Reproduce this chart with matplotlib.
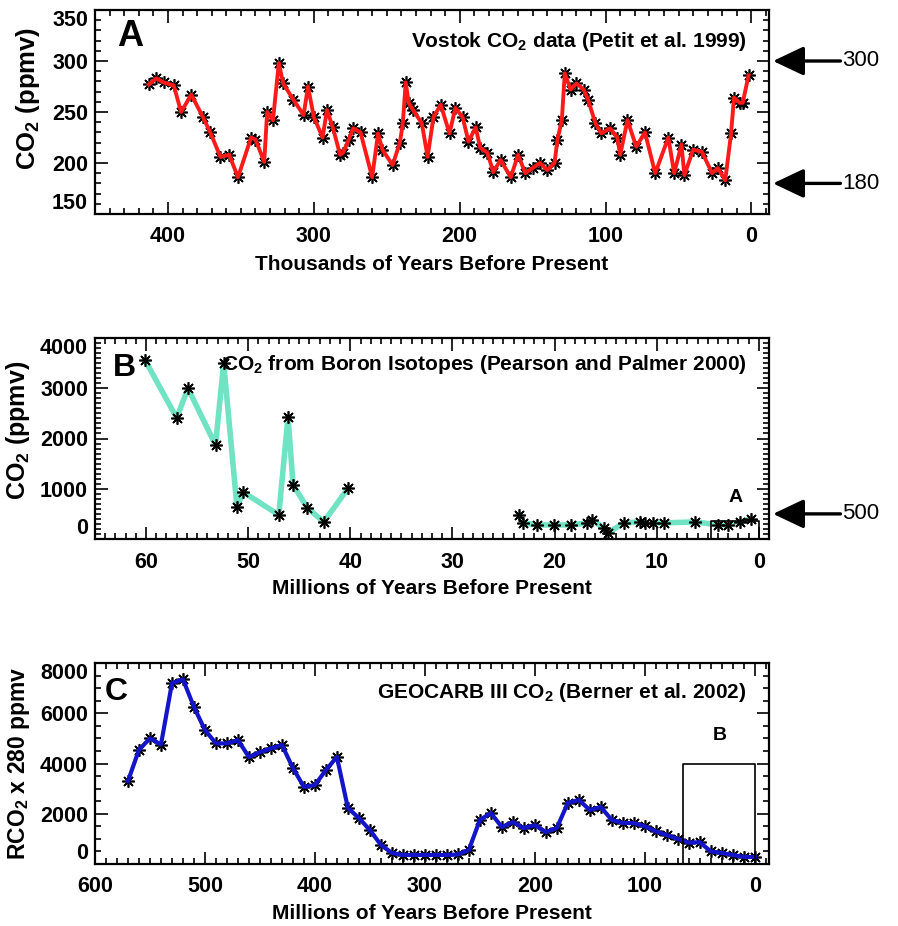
import matplotlib
matplotlib.use("Agg")
import matplotlib.pyplot as plt
from matplotlib.ticker import MultipleLocator
import matplotlib.transforms as mtransforms

plt.rcParams['font.family'] = ['Liberation Sans', 'DejaVu Sans']
plt.rcParams['mathtext.fontset'] = 'custom'
plt.rcParams['mathtext.rm'] = 'Liberation Sans:bold'
plt.rcParams['mathtext.bf'] = 'Liberation Sans:bold'
plt.rcParams['mathtext.default'] = 'bf'

# ---- Panel A: Vostok ice core CO2 (thousands of years BP, ppmv) ----
vostok_age = [413, 408, 403, 396, 391, 384, 376, 371, 364, 358, 352, 343, 340,
              334, 332, 328, 324, 321, 314, 307, 304, 300, 294, 291, 287, 282,
              280, 276, 273, 268, 260, 256, 253, 246, 241, 239, 237, 235, 232,
              226, 222, 218, 213, 207, 203, 198, 194, 189, 186, 181, 177, 172,
              165, 160, 155, 150, 145, 140, 135, 133, 130, 128, 124, 120, 115,
              112, 107, 103, 97, 92, 90, 85, 79, 73, 66, 57, 53, 48, 46, 40,
              34, 27, 23, 18, 14, 12, 8, 6, 2]
vostok_co2 = [277, 283, 279, 276, 250, 267, 245, 230, 206, 208, 186, 225, 223,
              201, 250, 242, 298, 278, 262, 247, 275, 245, 225, 252, 235, 208,
              210, 223, 234, 230, 186, 229, 213, 198, 220, 239, 279, 259, 252,
              239, 206, 245, 257, 229, 254, 245, 221, 235, 215, 210, 191, 203,
              186, 208, 190, 195, 200, 193, 200, 223, 242, 288, 272, 278, 272,
              262, 239, 229, 234, 225, 208, 242, 216, 230, 190, 225, 190, 218,
              188, 213, 211, 190, 195, 183, 229, 264, 259, 259, 286]

# ---- Panel B: boron isotope CO2 (millions of years BP, ppmv) ----
boron_early_age = [60.1, 57.0, 55.9, 53.2, 52.4, 51.1, 50.5, 47.0, 46.1, 45.6,
                   44.2, 42.6, 40.2]
boron_early_co2 = [3560, 2410, 3000, 1870, 3500, 640, 935, 480, 2430, 1075,
                   620, 340, 1015]
boron_late_age = [23.5, 23.1, 21.7, 20.1, 18.4, 16.8, 16.3, 15.2, 14.8, 13.2,
                  11.6, 11.1, 10.4, 9.3, 6.2, 4.0, 3.0, 1.8, 0.8]
boron_late_co2 = [480, 320, 280, 280, 280, 320, 380, 220, 120, 320,
                  340, 320, 320, 320, 340, 280, 280, 340, 400]

# ---- Panel C: GEOCARB III (millions of years BP, RCO2 x 280 ppmv) ----
geocarb_age = [570, 560, 550, 540, 530, 520, 510, 500, 490, 480,
               470, 460, 450, 440, 430, 420, 410, 400, 390, 380,
               370, 360, 350, 340, 330, 320, 310, 300, 290, 280,
               270, 260, 250, 240, 230, 220, 210, 200, 190, 180,
               170, 160, 150, 140, 130, 120, 110, 100, 90, 80,
               70, 60, 50, 40, 30, 20, 10, 0]
geocarb_co2 = [3300, 4550, 5000, 4750, 7200, 7350, 6250, 5330, 4800, 4800,
               4930, 4260, 4450, 4600, 4740, 3820, 3070, 3140, 3740, 4260,
               2230, 1830, 1350, 760, 440, 360, 360, 360, 360, 360,
               380, 560, 1750, 2030, 1470, 1670, 1430, 1550, 1270, 1430,
               2430, 2550, 2150, 2270, 1750, 1630, 1630, 1500, 1300, 1150,
               1000, 850, 870, 500, 440, 360, 280, 280]

# Zoom-box outlines (data coordinates of the panel they are drawn on)
box_a = (0.0, 4.7, 350)      # x0, x1, top in panel B
box_b = (0.0, 65.0, 4000)    # x0, x1, top in panel C

# Reference-level arrows on the right margin
arrows_a = [300, 180]
arrows_b = [500]

W, H = 898, 926
fig = plt.figure(figsize=(W / 100, H / 100), dpi=100)


def px_axes(left, right, top, bottom):
    return fig.add_axes([left / W, 1 - bottom / H, (right - left) / W, (bottom - top) / H])


axA = px_axes(95, 769, 10, 214)
axB = px_axes(95, 769, 338, 539)
axC = px_axes(95, 769, 663, 864)

STAR = (8, 2, 0)
TICKFS = 15.5
BOLD = 'bold'
TITLEFS = 15


def style(ax, xmaj, xmin, ymaj, ymin):
    ax.xaxis.set_major_locator(MultipleLocator(xmaj))
    ax.xaxis.set_minor_locator(MultipleLocator(xmin))
    ax.yaxis.set_major_locator(MultipleLocator(ymaj))
    ax.yaxis.set_minor_locator(MultipleLocator(ymin))
    ax.tick_params(which='both', direction='in', top=True, right=True,
                   width=1.2, color='black')
    ax.tick_params(which='major', length=9)
    ax.tick_params(which='minor', length=4.5)
    ax.tick_params(axis='x', which='major', pad=9, labelsize=TICKFS)
    ax.tick_params(axis='y', which='major', pad=5, labelsize=TICKFS)
    for lab in ax.get_xticklabels() + ax.get_yticklabels():
        lab.set_fontweight(BOLD)
    for s in ax.spines.values():
        s.set_linewidth(1.6)


def right_arrow(ax, y, label):
    trans = mtransforms.blended_transform_factory(ax.transAxes, ax.transData)
    ax.annotate('', xy=(1.006, y), xytext=(1.106, y), xycoords=trans, textcoords=trans,
                annotation_clip=False,
                arrowprops=dict(arrowstyle='-|>,head_length=1.9,head_width=0.9',
                                mutation_scale=10, lw=2.4, color='black',
                                shrinkA=0, shrinkB=0))
    ax.text(1.108, y, label, transform=trans, ha='left', va='center',
            fontsize=16, clip_on=False)


# ---------------- Panel A ----------------
axA.plot(vostok_age, vostok_co2, linestyle='none', marker=STAR, ms=9, mew=1.2,
         color='black', zorder=2)
axA.plot(vostok_age, vostok_co2, color='#ff1a1a', lw=2.8, zorder=3)
axA.set_xlim(450, -12)
axA.set_ylim(150, 350)
style(axA, 100, 10, 50, 10)
axA.text(0.033, 0.955, 'A', transform=axA.transAxes, ha='left', va='top',
         fontsize=26, fontweight=BOLD)
axA.text(0.967, 0.82, r'Vostok CO$_2$ data (Petit et al. 1999)', transform=axA.transAxes,
         ha='right', va='baseline', fontsize=TITLEFS, fontweight=BOLD)
axA.set_xlabel('Thousands of Years Before Present', fontsize=15, fontweight=BOLD)
axA.xaxis.set_label_coords(0.5, -0.2)
axA.set_ylabel(r'CO$_2$ (ppmv)', fontsize=18.5, fontweight=BOLD)
axA.yaxis.set_label_coords(-0.079, 0.565)
for y, lab in zip(arrows_a, ['300', '180']):
    right_arrow(axA, y, lab)

# ---------------- Panel B ----------------
for ages, vals in [(boron_early_age, boron_early_co2), (boron_late_age, boron_late_co2)]:
    axB.plot(ages, vals, color='#6fe3c4', lw=4, zorder=2)
    axB.plot(ages, vals, linestyle='none', marker=STAR, ms=9, mew=1.2,
             color='black', zorder=3)
axB.plot([box_a[1], box_a[1], box_a[0], box_a[0]], [0, box_a[2], box_a[2], 0],
         color='black', lw=1.2, zorder=4, clip_on=False)
axB.set_xlim(65, -1)
axB.set_ylim(0, 4000)
style(axB, 10, 1, 1000, 100)
axB.text(0.027, 0.925, 'B', transform=axB.transAxes, ha='left', va='top',
         fontsize=23, fontweight=BOLD)
axB.text(0.967, 0.841, r'CO$_2$ from Boron Isotopes (Pearson and Palmer 2000)',
         transform=axB.transAxes, ha='right', va='baseline', fontsize=TITLEFS,
         fontweight=BOLD)
axB.text(2.3, 830, 'A', ha='center', va='center', fontsize=14, fontweight=BOLD)
axB.set_xlabel('Millions of Years Before Present', fontsize=15, fontweight=BOLD)
axB.xaxis.set_label_coords(0.5, -0.2)
axB.set_ylabel(r'CO$_2$ (ppmv)', fontsize=18, fontweight=BOLD)
axB.yaxis.set_label_coords(-0.094, 0.54)
for y in arrows_b:
    right_arrow(axB, y, str(y))

# ---------------- Panel C ----------------
axC.plot(geocarb_age, geocarb_co2, linestyle='none', marker=STAR, ms=9, mew=1.2,
         color='black', zorder=2)
axC.plot(geocarb_age, geocarb_co2, color='#1414c8', lw=3, zorder=3)
axC.plot([box_b[1], box_b[1], box_b[0], box_b[0]], [0, box_b[2], box_b[2], 0],
         color='black', lw=1.2, zorder=4)
axC.set_xlim(600, -13)
axC.set_ylim(0, 8000)
style(axC, 100, 10, 2000, 500)
axC.text(0.015, 0.93, 'C', transform=axC.transAxes, ha='left', va='top',
         fontsize=23, fontweight=BOLD)
axC.text(0.967, 0.826, r'GEOCARB III CO$_2$ (Berner et al. 2002)',
         transform=axC.transAxes, ha='right', va='baseline', fontsize=TITLEFS,
         fontweight=BOLD)
axC.text(32, 5130, 'B', ha='center', va='center', fontsize=14, fontweight=BOLD)
axC.set_xlabel('Millions of Years Before Present', fontsize=15, fontweight=BOLD)
axC.xaxis.set_label_coords(0.5, -0.2)
axC.set_ylabel(r'RCO$_2$ x 280 ppmv', fontsize=16.5, fontweight=BOLD)
axC.yaxis.set_label_coords(-0.094, 0.5)

# Keep the end labels of each y axis inside the frame height
fig.canvas.draw()
for ax in (axA, axB, axC):
    lo, hi = ax.get_ylim()
    for tick in ax.yaxis.get_major_ticks():
        loc = tick.get_loc()
        if abs(loc - lo) < 1e-6 * (hi - lo):
            tick.label1.set_va('bottom')
        elif abs(loc - hi) < 1e-6 * (hi - lo):
            tick.label1.set_va('top')

fig.savefig('out.png', dpi=100)
